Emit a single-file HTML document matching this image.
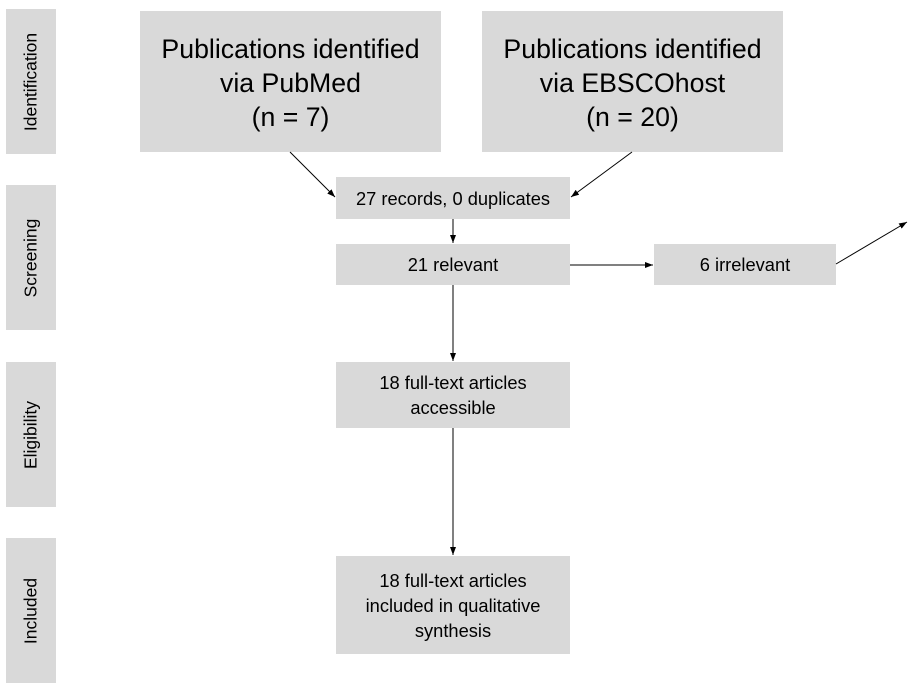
<!DOCTYPE html>
<html><head><meta charset="utf-8"><style>
body{margin:0;background:#fff;width:914px;height:696px;overflow:hidden;position:relative;font-family:"Liberation Sans",Arial,sans-serif;color:#000}
.b{position:absolute;background:#d9d9d9;display:flex;align-items:center;justify-content:center;text-align:center}
.big{font-size:26.7px;line-height:34px;padding-top:2px;box-sizing:border-box}
.sm{font-size:18.3px;line-height:25px}
.side{position:absolute;left:6px;width:50px;background:#d9d9d9}
.side span{position:absolute;left:50%;top:50%;transform:translate(-50%,-50%) rotate(-90deg);font-size:17.5px;white-space:nowrap}
svg{position:absolute;left:0;top:0}
</style></head><body>
<div class="side" style="top:9px;height:145px"><span>Identification</span></div>
<div class="side" style="top:185px;height:145px"><span>Screening</span></div>
<div class="side" style="top:362px;height:145px"><span>Eligibility</span></div>
<div class="side" style="top:538px;height:145px"><span>Included</span></div>

<div class="b big" style="left:140px;top:11px;width:301px;height:141px">Publications identified<br>via PubMed<br>(n = 7)</div>
<div class="b big" style="left:482px;top:11px;width:301px;height:141px">Publications identified<br>via EBSCOhost<br>(n = 20)</div>
<div class="b sm" style="left:336px;top:177px;width:234px;height:42px">27 records, 0 duplicates</div>
<div class="b sm" style="left:336px;top:244px;width:234px;height:41px">21 relevant</div>
<div class="b sm" style="left:654px;top:244px;width:182px;height:41px">6 irrelevant</div>
<div class="b sm" style="left:336px;top:362px;width:234px;height:66px">18 full-text articles<br>accessible</div>
<div class="b sm" style="left:336px;top:556px;width:234px;height:98px">18 full-text articles<br>included in qualitative<br>synthesis</div>

<svg width="914" height="696">
<defs><marker id="a" markerWidth="8" markerHeight="6" refX="8" refY="3" orient="auto" markerUnits="userSpaceOnUse"><path d="M0,0L8,3L0,6z" fill="#000"/></marker></defs>
<g stroke="#000" stroke-width="1" fill="none" marker-end="url(#a)">
<line x1="290" y1="152" x2="335" y2="197"/>
<line x1="632" y1="152" x2="571" y2="197"/>
<line x1="453" y1="219" x2="453" y2="243"/>
<line x1="570" y1="265" x2="653" y2="265"/>
<line x1="836" y1="264" x2="907" y2="222"/>
<line x1="453" y1="285" x2="453" y2="361"/>
<line x1="453" y1="428" x2="453" y2="555"/>
</g></svg>
</body></html>
